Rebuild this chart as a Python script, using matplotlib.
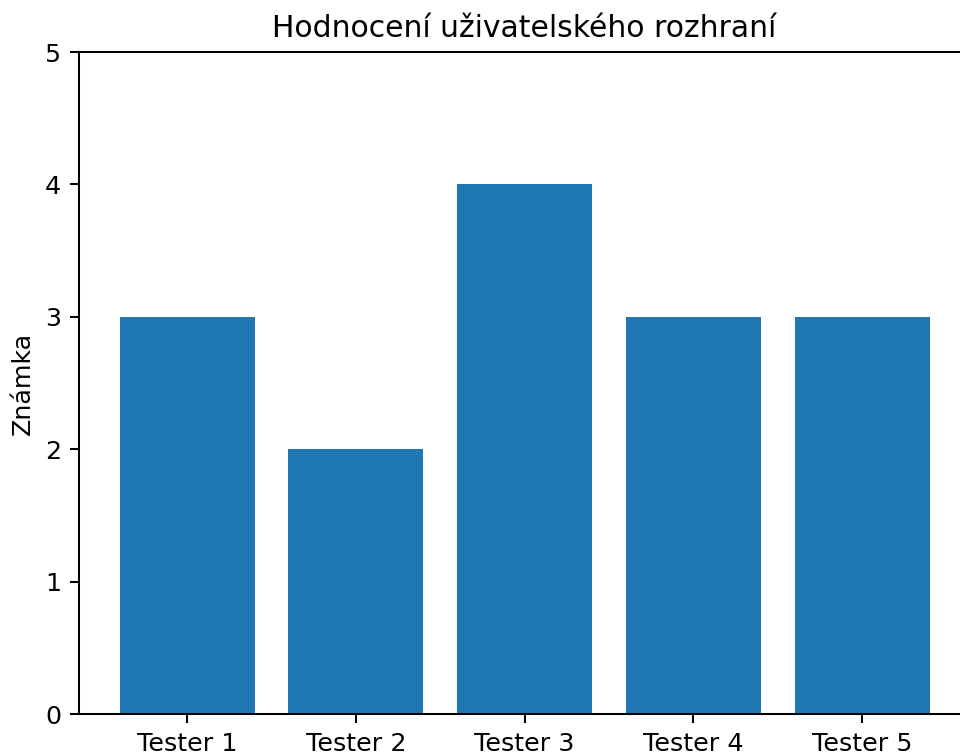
import matplotlib
matplotlib.use("Agg")
import matplotlib.pyplot as plt

# Data
testers = ["Tester 1", "Tester 2", "Tester 3", "Tester 4", "Tester 5"]
scores = [3, 2, 4, 3, 3]

s = 1.22  # the reference was rendered a bit larger than default
plt.rcParams.update({
    "font.size": 10 * s,
    "axes.titlesize": 11.75 * s,
    "axes.linewidth": 0.8 * s,
    "xtick.major.width": 0.8 * s,
    "ytick.major.width": 0.8 * s,
    "xtick.major.size": 3.5 * s,
    "ytick.major.size": 3.5 * s,
    "xtick.major.pad": 3.5 * s,
    "ytick.major.pad": 3.5 * s,
    "axes.titlepad": 6 * s,
    "axes.labelpad": 4 * s,
})

W, H, DPI = 960, 756, 150
fig = plt.figure(figsize=(W / DPI, H / DPI), dpi=DPI)

# axes placed so the right spine falls just outside the picture, as in the reference
left, right = 79 / W, 970 / W
bottom, top = (H - 714) / H, (H - 52) / H
ax = fig.add_axes([left, bottom, right - left, top - bottom])

ax.bar(testers, scores, color="#1f77b4", width=0.8)
ax.set_ylim(0, 5)
ax.set_yticks(range(6))
ax.set_ylabel("Známka")
ax.set_title("Hodnocení uživatelského rozhraní")

fig.savefig("out.png", dpi=DPI)
